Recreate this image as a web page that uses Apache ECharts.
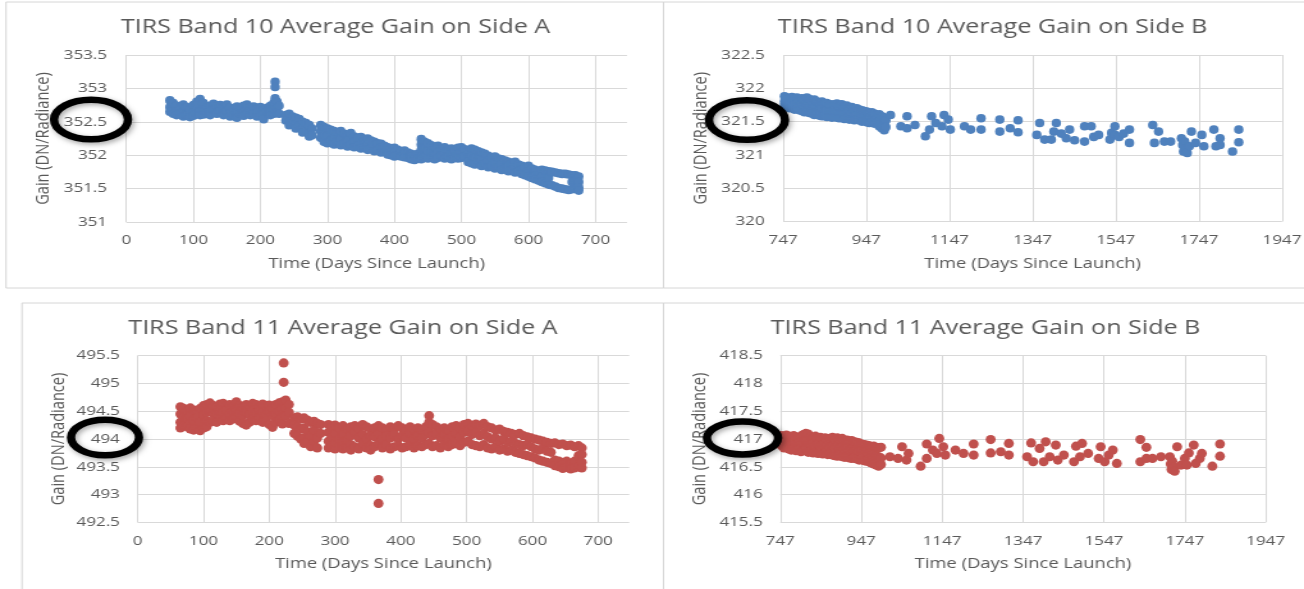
<!DOCTYPE html>
<html><head><meta charset="utf-8">
<script src="https://cdn.jsdelivr.net/npm/echarts@6/dist/echarts.min.js"></script>
<style>
html,body{margin:0;padding:0;background:#fff;overflow:hidden}
#wrap{width:1304px;height:589px;overflow:hidden;position:relative;background:#fff}
#chart{width:1019px;height:589px;transform:scaleX(1.279686);transform-origin:0 0}
</style>
</head><body><div id="wrap"><div id="chart"></div></div>
<script>
// ---------------- DATA ----------------
const titles = [
  'TIRS Band 10 Average Gain on Side A',
  'TIRS Band 10 Average Gain on Side B',
  'TIRS Band 11 Average Gain on Side A',
  'TIRS Band 11 Average Gain on Side B'
];
const xAxisName = 'Time (Days Since Launch)';
const yAxisName = 'Gain (DN/Radiance)';
const sideAXTicks = [0, 100, 200, 300, 400, 500, 600, 700];
const sideAXEnd = 747;
const sideBXTicks = [747, 947, 1147, 1347, 1547, 1747, 1947];
const b10aYTicks = [351, 351.5, 352, 352.5, 353, 353.5];
const b10bYTicks = [320, 320.5, 321, 321.5, 322, 322.5];
const b11aYTicks = [492.5, 493, 493.5, 494, 494.5, 495, 495.5];
const b11bYTicks = [415.5, 416, 416.5, 417, 417.5, 418, 418.5];

// each row: [day, gain, gain, ...] (gains read on that day)
const b10SideA = [
[65,352.82,352.72,352.65],[70,352.78,352.62],[75,352.74,352.66,352.60],[80,352.70,352.62],[85,352.76,352.64,352.58],[90,352.72,352.60],[95,352.68,352.57],[100,352.75,352.64,352.59],[105,352.80,352.70,352.62],[110,352.84,352.66,352.60],[115,352.78,352.68,352.61],[120,352.72,352.63],[125,352.74,352.66,352.60],[130,352.77,352.68],[135,352.73,352.64,352.62],[140,352.75,352.67],[145,352.72,352.63,352.60],[150,352.76,352.66],[155,352.71,352.62,352.58],[160,352.69,352.60],[165,352.73,352.64,352.56],[170,352.70,352.62],[175,352.74,352.65,352.59],[180,352.76,352.63],[185,352.71,352.66,352.60],[190,352.73,352.62],[195,352.70,352.64,352.58],[200,352.72,352.60],[205,352.68,352.62,352.54],[210,352.71,352.65],[215,352.74,352.66,352.60],[220,352.78,352.68,352.62],[222,353.10,353.02,352.85],[225,352.80,352.70,352.64],[228,352.74,352.62],
[238,352.60,352.52],[243,352.62,352.50,352.45],[248,352.58,352.48],[253,352.56,352.46,352.40],[258,352.54,352.44],[263,352.50,352.40,352.34],[268,352.48,352.36],[273,352.45,352.32,352.28],[277,352.40,352.30],
[290,352.45,352.36,352.26],[295,352.42,352.30,352.20],[300,352.40,352.28,352.18],[305,352.38,352.22],[310,352.36,352.26,352.16],[315,352.34,352.20],[320,352.36,352.24,352.15],[325,352.32,352.18],[330,352.30,352.22,352.13],[335,352.33,352.16],[340,352.28,352.20,352.12],[345,352.26,352.14],[350,352.27,352.18,352.10],[355,352.24,352.12],[360,352.25,352.16,352.08],[365,352.22,352.10],[370,352.20,352.14,352.06],[375,352.18,352.08],[380,352.17,352.11,352.04],[385,352.14,352.05],[390,352.12,352.07,352.01],[395,352.10,352.00],[400,352.11,352.04,351.98],[405,352.08,352.00],[410,352.06,351.98],[415,352.07,352.02,351.97],[420,352.04,351.96],[425,352.02,351.98,351.94],[430,352.00,351.93],[435,352.02,351.95],
[440,352.24,352.16,352.08,351.98,351.94],[445,352.20,352.10,351.97],[450,352.18,352.06,351.95],[455,352.15,352.04,351.97],[460,352.12,352.00,351.94],[465,352.14,352.05,351.96],[470,352.10,352.00],[475,352.12,352.03,351.95],[480,352.08,351.98],[485,352.10,352.02,351.94],[490,352.07,351.96],[495,352.11,352.01,351.95],[500,352.12,352.04,351.96],[505,352.09,351.98],[510,352.06,351.96,351.90],[515,352.10,352.00,351.88],[520,352.08,351.96,351.86],[525,352.06,351.92],[530,352.04,351.94,351.84],[535,352.02,351.88],[540,351.99,351.92,351.82],[545,351.97,351.84],[550,351.98,351.90,351.80],[555,351.95,351.82],[560,351.94,351.86,351.78],[565,351.92,351.80],[570,351.90,351.84,351.76],[575,351.88,351.78],[580,351.90,351.82,351.74],[585,351.86,351.76],[590,351.84,351.78,351.72],[595,351.82,351.70],[600,351.84,351.76,351.68],[605,351.80,351.66],[610,351.78,351.70,351.64],[615,351.76,351.62],
[620,351.78,351.68,351.60],[625,351.77,351.58],[630,351.76,351.66,351.56],[635,351.75,351.55],[640,351.74,351.53],[645,351.73,351.51],[650,351.72,351.50],[655,351.72,351.49],[660,351.71,351.48],[665,351.70,351.60,351.49],[670,351.70,351.62,351.50],[675,351.68,351.60,351.52,351.47]
];

const b10SideB = [
[750,321.88,321.80,321.74],[756,321.86,321.78,321.72],[762,321.85,321.76,321.70],[768,321.87,321.79,321.71],[774,321.84,321.75,321.68],[780,321.86,321.77,321.69],[786,321.83,321.74,321.67],[792,321.85,321.76,321.66],[798,321.82,321.72,321.64],[804,321.86,321.75,321.65],[810,321.84,321.73,321.63],[816,321.81,321.70,321.62],[822,321.83,321.71,321.60],[828,321.80,321.69,321.61],[834,321.78,321.68,321.59],[840,321.80,321.70,321.58],[846,321.77,321.66,321.60],[852,321.78,321.67,321.57],[858,321.75,321.65,321.58],[864,321.76,321.66,321.56],[870,321.74,321.64,321.57],[876,321.77,321.65,321.56],[882,321.73,321.62,321.55],[888,321.76,321.63,321.56],[894,321.72,321.61,321.54],[900,321.74,321.62,321.55],[906,321.70,321.60,321.53],[912,321.72,321.61,321.54],[918,321.69,321.58,321.52],[924,321.70,321.60,321.53],[930,321.68,321.57,321.52],[936,321.67,321.58,321.50],[942,321.66,321.56,321.51],[948,321.65,321.55,321.49],[954,321.63,321.56,321.48],[960,321.64,321.54,321.49],[966,321.62,321.52,321.47],[972,321.60,321.53,321.48],[978,321.61,321.50,321.43],[984,321.58,321.49,321.40],[990,321.56,321.46,321.37],[994,321.52,321.42],
[1005,321.60],[1030,321.43],[1045,321.58,321.40],[1064,321.45],[1089,321.28],[1099,321.38],[1104,321.58],[1114,321.48],[1129,321.43],[1134,321.60],[1144,321.53],[1149,321.38],[1183,321.43],[1198,321.38],[1223,321.55,321.38],[1268,321.53,321.35],[1293,321.40],[1312,321.52,321.34],
[1357,321.30],[1364,321.48],[1376,321.23],[1392,321.23],[1398,321.35],[1404,321.48],[1416,321.32],[1428,321.25],[1436,321.38],[1448,321.22],[1472,321.43,321.20],[1488,321.43],[1494,321.27],[1506,321.30],[1533,321.23],[1537,321.33],[1545,321.43,321.30],[1555,321.27],[1566,321.32],[1580,321.38,321.18],
[1636,321.45],[1640,321.18],[1650,321.35],[1664,321.20],[1679,321.20],[1705,321.25],[1708,321.15],[1710,321.05],[1713,321.20],[1716,321.10],[1719,321.03],[1724,321.13],[1729,321.35],[1739,321.18],[1754,321.30],[1759,321.13],[1783,321.38],[1788,321.13],[1798,321.25,321.15],[1828,321.05],[1843,321.38,321.19]
];

const b11SideA = [
[65,494.58,494.45,494.30,494.20],[70,494.55,494.40,494.24],[75,494.50,494.36,494.22],[80,494.56,494.42,494.28,494.18],[85,494.52,494.34,494.16],[90,494.50,494.38,494.22],[95,494.55,494.30,494.15],[100,494.60,494.44,494.20],[105,494.62,494.48,494.33,494.22],[110,494.65,494.50,494.30],[115,494.60,494.45,494.32],[120,494.58,494.46,494.30],[125,494.63,494.50,494.36],[130,494.64,494.48,494.33],[135,494.60,494.52,494.38],[140,494.62,494.45,494.33],[145,494.58,494.50,494.36],[150,494.67,494.52,494.40],[155,494.60,494.46,494.32],[160,494.56,494.42,494.28],[165,494.62,494.48,494.25],[170,494.60,494.44,494.30],[175,494.64,494.50,494.36],[180,494.62,494.46,494.33],[185,494.58,494.52,494.38],[190,494.63,494.48,494.30],[195,494.60,494.44,494.32],[200,494.61,494.50,494.26],[205,494.56,494.42,494.21],[210,494.62,494.46,494.30],[215,494.65,494.50,494.34],[220,494.67,494.55,494.40,494.27],[222,495.37,495.02],[225,494.70,494.56,494.42],[230,494.62,494.48,494.28],
[238,494.38,494.25,494.10],[243,494.40,494.22,494.05],[248,494.36,494.18,494.00],[253,494.38,494.20,494.02,493.92],[258,494.34,494.12,493.96],[263,494.30,494.06,493.86],[268,494.32,494.16,493.95],[273,494.28,494.02,493.84],[278,494.26,494.10],
[290,494.26,494.12,493.96,493.84],[295,494.22,494.04,493.88],[300,494.25,494.10,493.92,493.82],[306,494.20,494.00,493.86],[312,494.24,494.08,493.94,493.82],[318,494.18,493.98,493.85],[324,494.22,494.06,493.90,493.80],[330,494.24,494.12,493.86],[336,494.20,494.02,493.82],[342,494.26,494.08,493.92],[348,494.22,494.00,493.84],[354,494.18,494.06,493.88,493.80],[360,494.20,494.04,493.86],[366,494.24,494.10,493.92,493.27,492.84],[372,494.20,494.00,493.84],[378,494.16,494.06,493.90],[384,494.22,494.02,493.82],[390,494.18,494.08,493.86],[396,494.24,494.00,493.88],[402,494.20,494.06,493.84],[408,494.16,494.02,493.86],[414,494.22,494.10,493.90],[420,494.18,494.00,493.84],[426,494.20,494.06,493.88],[432,494.16,494.02,493.86],[438,494.22,494.08,493.90],
[443,494.42,494.30,494.12,493.92],[448,494.26,494.06,493.86],[454,494.22,494.10,493.88],[460,494.18,494.02,493.84],[466,494.20,494.08,493.90],[472,494.16,494.00,493.86],[478,494.22,494.06,493.90],[484,494.24,494.10,493.92],[490,494.20,494.04,493.88],[496,494.26,494.12,493.94],[502,494.28,494.14,493.96],[508,494.24,494.08,493.90],[514,494.27,494.12,493.88],[520,494.24,494.06,493.86],[526,494.28,494.10,493.90],[532,494.22,494.04,493.84],[538,494.20,494.00,493.82],[544,494.16,494.02,493.86],[550,494.18,493.96,493.80],[556,494.14,494.00,493.82],[562,494.12,493.94,493.78],[568,494.10,493.96,493.80],[574,494.08,493.92,493.76],[580,494.10,493.90,493.74],[586,494.06,493.88,493.72],[592,494.04,493.90,493.70],[598,494.02,493.86,493.68],[604,494.00,493.82,493.66],[610,493.98,493.80,493.62],[616,493.96,493.84,493.60],[622,493.94,493.78,493.58],
[628,493.92,493.76,493.56],[634,493.93,493.62,493.52],[640,493.90,493.60,493.50],[646,493.91,493.58,493.47],[652,493.88,493.60,493.49],[658,493.89,493.56,493.46],[664,493.86,493.60,493.48],[670,493.88,493.70,493.50],[675,493.84,493.72,493.58,493.48]
];

const b11SideB = [
[750,417.06,416.98,416.88],[756,417.04,416.95,416.84],[762,417.07,416.96,416.86],[768,417.05,416.92,416.82],[774,417.03,416.94,416.80],[780,417.06,416.96,416.84],[786,417.04,416.90,416.79],[792,417.02,416.93,416.81],[798,417.05,416.94,416.77],[804,417.08,416.95,416.79],[810,417.10,416.97,416.84],[816,417.09,416.92,416.76],[822,417.04,416.90,416.78],[828,417.02,416.93,416.75],[834,417.05,416.88,416.77],[840,417.01,416.91,416.74],[846,417.03,416.87,416.76],[852,417.00,416.90,416.73],[858,417.02,416.86,416.75],[864,416.99,416.89,416.72],[870,417.01,416.85,416.74],[876,417.03,416.88,416.71],[882,417.00,416.84,416.70],[888,417.02,416.87,416.69],[894,416.99,416.83,416.71],[900,417.01,416.86,416.68],[906,416.97,416.82,416.67],[912,416.98,416.84,416.69],[918,416.96,416.80,416.66],[924,416.97,416.83,416.65],[930,416.95,416.79,416.67],[936,416.94,416.81,416.64],[942,416.93,416.78,416.62],[948,416.91,416.80,416.63],[954,416.90,416.76,416.61],[960,416.89,416.78,416.60],[966,416.88,416.74,416.59],[972,416.86,416.75,416.57],[978,416.87,416.72,416.55],[984,416.85,416.70,416.53],[990,416.84,416.68,416.51],[996,416.85,416.66,416.54],
[1018,416.68],[1038,416.65],[1048,416.86],[1059,416.62],[1064,416.74],[1094,416.51],[1109,416.91,416.65],[1124,416.80],[1134,416.74],[1140,417.01],[1150,416.86],[1155,416.71],[1180,416.80],[1200,416.74],[1225,416.91,416.71],[1267,416.99,416.75],[1292,416.77],[1312,416.92,416.71],
[1357,416.68],[1367,416.93],[1372,416.59],[1388,416.83],[1398,416.59],[1403,416.95],[1413,416.68],[1428,416.89],[1433,416.62],[1448,416.71],[1473,416.59],[1478,416.87],[1488,416.68],[1493,416.92],[1508,416.74],[1534,416.65],[1539,416.86],[1549,416.59],[1559,416.71],[1569,416.80],[1579,416.56],
[1637,416.99,416.59],[1652,416.85,416.65],[1667,416.65],[1688,416.68],[1710,416.68],[1712,416.55],[1714,416.45],[1716,416.60],[1720,416.50],[1722,416.42],[1728,416.86],[1738,416.53],[1747,416.65],[1752,416.53],[1757,416.75],[1769,416.89],[1774,416.56],[1784,416.65],[1789,416.74],[1815,416.51],[1834,416.91,416.69]
];

// ---------------- LAYOUT / STYLE ----------------
const K = 1304 / 1019;           // horizontal stretch applied by CSS
const X = v => v / K;            // screen x -> chart x
const FONT = '"Open Sans", sans-serif';
const TXT = '#595959';
const LINE = '#d9d9d9';
const BLUE = '#4f81bd';
const RED = '#c0504d';

const panels = [
  {rows: b10SideA, side: 'A', yt: b10aYTicks, color: BLUE, size: [7.4, 8.6],
   grid: [126.3, 55, 627, 222], title: [335.5, 17], yGap: 57, yMargin: 15,
   ell: [91, 119.5, 37, 19.8], box: [6, 2, 663.5, 288]},
  {rows: b10SideB, side: 'B', yt: b10bYTicks, color: BLUE, size: [7.4, 8.6],
   grid: [783.2, 55, 1282, 221.5], title: [992.6, 17], yGap: 57, yMargin: 14.5,
   ell: [747, 120, 38, 19.8], box: [663.5, 2, 1312, 288]},
  {rows: b11SideA, side: 'A', yt: b11aYTicks, color: RED, size: [7.8, 9.2],
   grid: [137.6, 355.7, 629.2, 522.3], title: [343, 318], yGap: 54.5, yMargin: 13.8,
   ell: [105, 437.5, 34, 17.8], box: [22, 303, 663.5, 600]},
  {rows: b11SideB, side: 'B', yt: b11bYTicks, color: RED, size: [7.8, 9.2],
   grid: [780.3, 355.7, 1265.7, 522.3], title: [985.5, 318], yGap: 55, yMargin: 13.7,
   ell: [742.5, 438, 35.6, 16.5], box: [663.5, 303, 1312, 600]}
];

const measure = (() => {
  const ctx = document.createElement('canvas').getContext('2d');
  return (text, size) => { ctx.font = size + 'px "Open Sans"'; return ctx.measureText(text).width; };
})();

const option = {
  animation: false,
  backgroundColor: '#ffffff',
  textStyle: {fontFamily: FONT},
  title: [], grid: [], xAxis: [], yAxis: [], series: [], graphic: []
};

panels.forEach((p, i) => {
  const [l, t, r, b] = p.grid;
  option.grid.push({left: X(l), top: t, width: X(r) - X(l), height: b - t,
    containLabel: false, outerBoundsMode: 'none'});

  const tSize = 19.6;
  const tw = measure(titles[i], tSize);
  option.title.push({text: titles[i], left: X(p.title[0]) - tw / 2, top: p.title[1], padding: 0,
    textStyle: {fontSize: tSize, fontWeight: 'normal', color: TXT, fontFamily: FONT}});

  const offset = p.side === 'A' ? 0 : sideBXTicks[0];
  const xMin = p.side === 'A' ? sideAXTicks[0] : 0;
  const xMax = p.side === 'A' ? sideAXEnd : sideBXTicks[sideBXTicks.length - 1] - offset;
  const xStep = p.side === 'A' ? sideAXTicks[1] - sideAXTicks[0] : sideBXTicks[1] - sideBXTicks[0];

  option.xAxis.push({
    gridIndex: i, type: 'value', min: xMin, max: xMax, interval: xStep,
    axisLine: {show: false}, axisTick: {show: false},
    splitLine: {show: true, showMinLine: true, showMaxLine: p.side === 'B', lineStyle: {color: LINE, width: 1}},
    axisLabel: {color: TXT, fontSize: 13.3, fontFamily: FONT, margin: 12,
      showMinLabel: true, showMaxLabel: p.side === 'B',
      formatter: v => String(Math.round(v + offset))},
    name: xAxisName, nameLocation: 'middle', nameGap: 35,
    nameTextStyle: {color: TXT, fontSize: 14.4, fontFamily: FONT}
  });

  const yt = p.yt;
  option.yAxis.push({
    gridIndex: i, type: 'value', min: yt[0], max: yt[yt.length - 1], interval: yt[1] - yt[0],
    axisLine: {show: false}, axisTick: {show: false},
    splitLine: {show: true, showMinLine: true, showMaxLine: true, lineStyle: {color: LINE, width: 1}},
    axisLabel: {color: TXT, fontSize: 13.3, fontFamily: FONT, margin: p.yMargin},
    name: yAxisName, nameLocation: 'middle', nameRotate: 90, nameGap: p.yGap,
    nameTextStyle: {color: TXT, fontSize: 14.6, fontFamily: FONT}
  });

  const data = [];
  p.rows.forEach(row => { for (let k = 1; k < row.length; k++) data.push([row[0] - offset, row[k]]); });
  option.series.push({
    type: 'scatter', xAxisIndex: i, yAxisIndex: i, data: data,
    symbol: 'circle', symbolSize: p.size, itemStyle: {color: p.color, opacity: 1},
    emphasis: {disabled: true}, silent: true
  });

  const [bx0, by0, bx1, by1] = p.box;
  option.graphic.push({type: 'rect', z: 1, silent: true,
    shape: {x: X(bx0), y: by0, width: X(bx1) - X(bx0), height: by1 - by0},
    style: {fill: 'none', stroke: '#d6d6d6', lineWidth: 1}});

  const [ex, ey, rx, ry] = p.ell;
  option.graphic.push({type: 'ellipse', z: 100, silent: true,
    shape: {cx: X(ex), cy: ey, rx: X(rx), ry: ry},
    style: {fill: 'none', stroke: '#000000', lineWidth: 6.5,
      shadowColor: 'rgba(0,0,0,0.35)', shadowBlur: 5, shadowOffsetX: 1.5, shadowOffsetY: 2}});
});

const chart = echarts.init(document.getElementById('chart'), null, {renderer: 'canvas'});
chart.setOption(option);
</script>
</body></html>
